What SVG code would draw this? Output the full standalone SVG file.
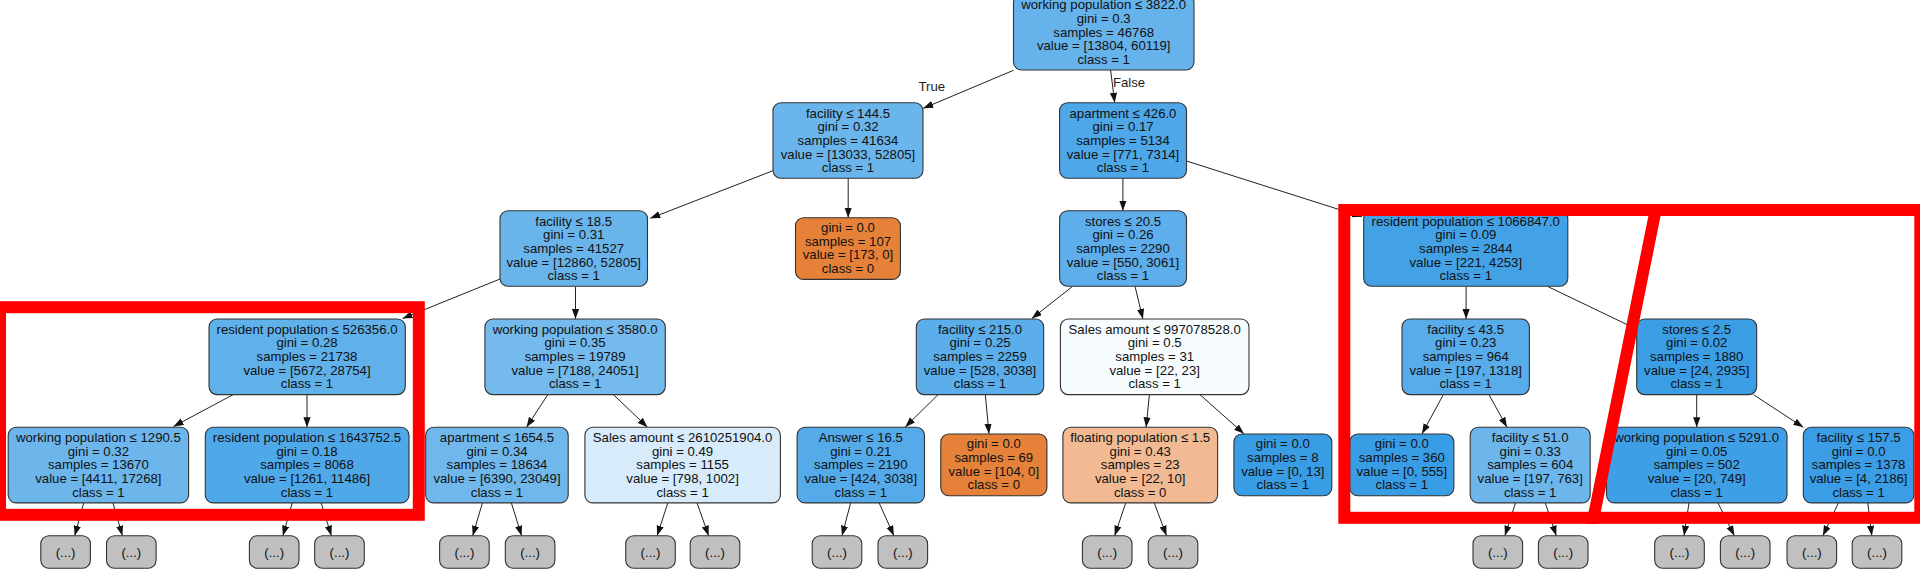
<svg xmlns="http://www.w3.org/2000/svg" width="1920" height="586" viewBox="0 0 1920 586">
<style>
.nd rect{stroke:#333;stroke-width:1.1}
.nd text{font-family:"Liberation Sans",Arial,Helvetica,sans-serif;font-size:13.2px;text-anchor:middle;fill:#111}
.lbl{font-family:"Liberation Sans",Arial,Helvetica,sans-serif;font-size:13.2px;text-anchor:middle;fill:#222}
.el line{stroke:#222;stroke-width:1;marker-end:url(#ah)}
.el2 line{stroke:#222;stroke-width:1}
.tr rect{fill:#c0c0c0}
.red{fill:none;stroke:#ff0000;stroke-width:12}
</style>
<defs>
<marker id="ah" markerUnits="userSpaceOnUse" markerWidth="11" markerHeight="8" refX="10" refY="3.6" orient="auto">
<path d="M0,0 L10,3.6 L0,7.2 z" fill="#111"/>
</marker>
</defs>
<rect width="1920" height="586" fill="#ffffff"/>
<g id="edges" class="el">
<line x1="1013.5" y1="70.3" x2="923.3" y2="108.3"/>
<line x1="1110.6" y1="70" x2="1114.7" y2="102.7"/>
<line x1="773" y1="170.7" x2="650.2" y2="218.3"/>
<line x1="848.2" y1="178.3" x2="848.2" y2="217.7"/>
<line x1="1122.9" y1="178.3" x2="1122.9" y2="210.7"/>
<line x1="1186.5" y1="161" x2="1362" y2="216.8"/>
<line x1="500" y1="279" x2="402.5" y2="318.5"/>
<line x1="575.5" y1="286.7" x2="575.5" y2="319"/>
<line x1="233" y1="394.7" x2="173.5" y2="426.5"/>
<line x1="307" y1="394.7" x2="307" y2="427.3"/>
<line x1="547.8" y1="394.7" x2="526.5" y2="427.2"/>
<line x1="613.5" y1="394.7" x2="647.5" y2="427.2"/>
<line x1="1072.7" y1="286.3" x2="1031.8" y2="318.5"/>
<line x1="1135" y1="286.3" x2="1142.9" y2="318.9"/>
<line x1="1466.1" y1="286.3" x2="1466.1" y2="319"/>
<line x1="1547.3" y1="286.3" x2="1637.5" y2="329.6"/>
<line x1="938" y1="394.7" x2="905.3" y2="426.9"/>
<line x1="985.3" y1="394.7" x2="989" y2="433.8"/>
<line x1="1149.4" y1="394.7" x2="1146.1" y2="427.3"/>
<line x1="1200" y1="394.7" x2="1244" y2="433.8"/>
<line x1="1443.3" y1="394.7" x2="1422" y2="433.8"/>
<line x1="1489" y1="394.7" x2="1507" y2="427.2"/>
<line x1="1696.7" y1="394.7" x2="1696.7" y2="427.3"/>
<line x1="1753.5" y1="394.7" x2="1803.3" y2="427.3"/>
<line x1="83.7" y1="503" x2="74.7" y2="535.7"/>
<line x1="113" y1="503" x2="122.4" y2="535.7"/>
<line x1="292.2" y1="503" x2="282.9" y2="535.7"/>
<line x1="321.2" y1="503" x2="331.4" y2="535.7"/>
<line x1="482.4" y1="503" x2="472.7" y2="535.7"/>
<line x1="511.4" y1="503" x2="521.6" y2="535.7"/>
<line x1="667.8" y1="503" x2="657.1" y2="535.7"/>
<line x1="697.1" y1="503" x2="708.6" y2="535.7"/>
<line x1="850.6" y1="503" x2="842" y2="535.7"/>
<line x1="879.2" y1="503" x2="893.9" y2="535.7"/>
<line x1="1125.7" y1="503" x2="1114.7" y2="535.7"/>
<line x1="1154.3" y1="503" x2="1166.5" y2="535.7"/>
<line x1="1515.5" y1="503" x2="1504.9" y2="535.7"/>
<line x1="1545.3" y1="503" x2="1556.3" y2="535.7"/>
<line x1="1689" y1="503" x2="1684" y2="535.7"/>
<line x1="1718" y1="503" x2="1734.3" y2="535.7"/>
<line x1="1838.4" y1="503" x2="1822.9" y2="535.7"/>
<line x1="1867.8" y1="503" x2="1871.8" y2="535.7"/>
<text class="lbl" x="931.8" y="91">True</text>
<text class="lbl" x="1129" y="87">False</text>
</g>

<g id="n0" class="nd"><rect x="1013.5" y="-5.3" width="180.5" height="75.3" rx="8" fill="#66b3eb"/>
<text x="1103.7" y="9.3">working population ≤ 3822.0<tspan x="1103.7" dy="13.67">gini = 0.3</tspan><tspan x="1103.7" dy="13.67">samples = 46768</tspan><tspan x="1103.7" dy="13.67">value = [13804, 60119]</tspan><tspan x="1103.7" dy="13.67">class = 1</tspan></text></g>

<g id="n1" class="nd"><rect x="773" y="102.7" width="150" height="75.6" rx="8" fill="#6ab5eb"/>
<text x="848" y="117.5">facility ≤ 144.5<tspan x="848" dy="13.67">gini = 0.32</tspan><tspan x="848" dy="13.67">samples = 41634</tspan><tspan x="848" dy="13.67">value = [13033, 52805]</tspan><tspan x="848" dy="13.67">class = 1</tspan></text></g>

<g id="n2" class="nd"><rect x="500" y="210.7" width="147.5" height="75.6" rx="8" fill="#69b5eb"/>
<text x="573.7" y="225.5">facility ≤ 18.5<tspan x="573.7" dy="13.67">gini = 0.31</tspan><tspan x="573.7" dy="13.67">samples = 41527</tspan><tspan x="573.7" dy="13.67">value = [12860, 52805]</tspan><tspan x="573.7" dy="13.67">class = 1</tspan></text></g>

<g id="n3" class="nd"><rect x="209" y="319" width="196.3" height="75.6" rx="8" fill="#60b0ea"/>
<text x="307" y="333.8">resident population ≤ 526356.0<tspan x="307" dy="13.67">gini = 0.28</tspan><tspan x="307" dy="13.67">samples = 21738</tspan><tspan x="307" dy="13.67">value = [5672, 28754]</tspan><tspan x="307" dy="13.67">class = 1</tspan></text></g>

<g id="n4" class="nd"><rect x="8.2" y="427.3" width="180.4" height="75.6" rx="8" fill="#6cb6ec"/>
<text x="98.4" y="442.1">working population ≤ 1290.5<tspan x="98.4" dy="13.67">gini = 0.32</tspan><tspan x="98.4" dy="13.67">samples = 13670</tspan><tspan x="98.4" dy="13.67">value = [4411, 17268]</tspan><tspan x="98.4" dy="13.67">class = 1</tspan></text></g>

<g id="n5" class="nd tr"><rect x="40.8" y="535.7" width="49.6" height="32.6" rx="8"/><text x="65.6" y="556.5">(...)</text></g>
<g id="n6" class="nd tr"><rect x="106.5" y="535.7" width="49.6" height="32.6" rx="8"/><text x="131.3" y="556.5">(...)</text></g>

<g id="n7" class="nd"><rect x="205.3" y="427.3" width="203.7" height="75.6" rx="8" fill="#4fa8e8"/>
<text x="307" y="442.1">resident population ≤ 1643752.5<tspan x="307" dy="13.67">gini = 0.18</tspan><tspan x="307" dy="13.67">samples = 8068</tspan><tspan x="307" dy="13.67">value = [1261, 11486]</tspan><tspan x="307" dy="13.67">class = 1</tspan></text></g>

<g id="n8" class="nd tr"><rect x="249.4" y="535.7" width="49.6" height="32.6" rx="8"/><text x="274.2" y="556.5">(...)</text></g>
<g id="n9" class="nd tr"><rect x="314.7" y="535.7" width="49.6" height="32.6" rx="8"/><text x="339.5" y="556.5">(...)</text></g>

<g id="n10" class="nd"><rect x="484.9" y="319" width="180.4" height="75.6" rx="8" fill="#74baed"/>
<text x="575.1" y="333.8">working population ≤ 3580.0<tspan x="575.1" dy="13.67">gini = 0.35</tspan><tspan x="575.1" dy="13.67">samples = 19789</tspan><tspan x="575.1" dy="13.67">value = [7188, 24051]</tspan><tspan x="575.1" dy="13.67">class = 1</tspan></text></g>

<g id="n11" class="nd"><rect x="425.7" y="427.3" width="142.5" height="75.6" rx="8" fill="#70b8ec"/>
<text x="497" y="442.1">apartment ≤ 1654.5<tspan x="497" dy="13.67">gini = 0.34</tspan><tspan x="497" dy="13.67">samples = 18634</tspan><tspan x="497" dy="13.67">value = [6390, 23049]</tspan><tspan x="497" dy="13.67">class = 1</tspan></text></g>

<g id="n12" class="nd tr"><rect x="439.6" y="535.7" width="49.6" height="32.6" rx="8"/><text x="464.4" y="556.5">(...)</text></g>
<g id="n13" class="nd tr"><rect x="505.3" y="535.7" width="49.6" height="32.6" rx="8"/><text x="530.1" y="556.5">(...)</text></g>

<g id="n14" class="nd"><rect x="584.9" y="427.3" width="195.5" height="75.6" rx="8" fill="#d7ebfa"/>
<text x="682.6" y="442.1">Sales amount ≤ 2610251904.0<tspan x="682.6" dy="13.67">gini = 0.49</tspan><tspan x="682.6" dy="13.67">samples = 1155</tspan><tspan x="682.6" dy="13.67">value = [798, 1002]</tspan><tspan x="682.6" dy="13.67">class = 1</tspan></text></g>

<g id="n15" class="nd tr"><rect x="625.7" y="535.7" width="49.6" height="32.6" rx="8"/><text x="650.5" y="556.5">(...)</text></g>
<g id="n16" class="nd tr"><rect x="690.2" y="535.7" width="49.6" height="32.6" rx="8"/><text x="715" y="556.5">(...)</text></g>

<g id="n17" class="nd"><rect x="795.5" y="217.7" width="104.9" height="61.7" rx="8" fill="#e58139"/>
<text x="848" y="231.9">gini = 0.0<tspan x="848" dy="13.67">samples = 107</tspan><tspan x="848" dy="13.67">value = [173, 0]</tspan><tspan x="848" dy="13.67">class = 0</tspan></text></g>

<g id="n18" class="nd"><rect x="1059.6" y="102.7" width="126.9" height="75.6" rx="8" fill="#4ea7e8"/>
<text x="1123" y="117.5">apartment ≤ 426.0<tspan x="1123" dy="13.67">gini = 0.17</tspan><tspan x="1123" dy="13.67">samples = 5134</tspan><tspan x="1123" dy="13.67">value = [771, 7314]</tspan><tspan x="1123" dy="13.67">class = 1</tspan></text></g>

<g id="n19" class="nd"><rect x="1059.6" y="210.7" width="126.9" height="75.6" rx="8" fill="#5daeea"/>
<text x="1123" y="225.5">stores ≤ 20.5<tspan x="1123" dy="13.67">gini = 0.26</tspan><tspan x="1123" dy="13.67">samples = 2290</tspan><tspan x="1123" dy="13.67">value = [550, 3061]</tspan><tspan x="1123" dy="13.67">class = 1</tspan></text></g>

<g id="n20" class="nd"><rect x="916.3" y="319" width="127.4" height="75.6" rx="8" fill="#5baee9"/>
<text x="980" y="333.8">facility ≤ 215.0<tspan x="980" dy="13.67">gini = 0.25</tspan><tspan x="980" dy="13.67">samples = 2259</tspan><tspan x="980" dy="13.67">value = [528, 3038]</tspan><tspan x="980" dy="13.67">class = 1</tspan></text></g>

<g id="n21" class="nd"><rect x="797.1" y="427.3" width="127.4" height="75.6" rx="8" fill="#55abe9"/>
<text x="860.8" y="442.1">Answer ≤ 16.5<tspan x="860.8" dy="13.67">gini = 0.21</tspan><tspan x="860.8" dy="13.67">samples = 2190</tspan><tspan x="860.8" dy="13.67">value = [424, 3038]</tspan><tspan x="860.8" dy="13.67">class = 1</tspan></text></g>

<g id="n22" class="nd tr"><rect x="812.2" y="535.7" width="49.6" height="32.6" rx="8"/><text x="837" y="556.5">(...)</text></g>
<g id="n23" class="nd tr"><rect x="878" y="535.7" width="49.6" height="32.6" rx="8"/><text x="902.8" y="556.5">(...)</text></g>

<g id="n24" class="nd"><rect x="940.8" y="434" width="106.1" height="61.7" rx="8" fill="#e58139"/>
<text x="993.8" y="448.2">gini = 0.0<tspan x="993.8" dy="13.67">samples = 69</tspan><tspan x="993.8" dy="13.67">value = [104, 0]</tspan><tspan x="993.8" dy="13.67">class = 0</tspan></text></g>

<g id="n25" class="nd"><rect x="1060.4" y="319" width="188.6" height="75.6" rx="8" fill="#f6fbfe"/>
<text x="1154.7" y="333.8">Sales amount ≤ 997078528.0<tspan x="1154.7" dy="13.67">gini = 0.5</tspan><tspan x="1154.7" dy="13.67">samples = 31</tspan><tspan x="1154.7" dy="13.67">value = [22, 23]</tspan><tspan x="1154.7" dy="13.67">class = 1</tspan></text></g>

<g id="n26" class="nd"><rect x="1062.9" y="427.3" width="154.7" height="75.6" rx="8" fill="#f1ba93"/>
<text x="1140.2" y="442.1">floating population ≤ 1.5<tspan x="1140.2" dy="13.67">gini = 0.43</tspan><tspan x="1140.2" dy="13.67">samples = 23</tspan><tspan x="1140.2" dy="13.67">value = [22, 10]</tspan><tspan x="1140.2" dy="13.67">class = 0</tspan></text></g>

<g id="n27" class="nd tr"><rect x="1082.4" y="535.7" width="49.6" height="32.6" rx="8"/><text x="1107.2" y="556.5">(...)</text></g>
<g id="n28" class="nd tr"><rect x="1148.2" y="535.7" width="49.6" height="32.6" rx="8"/><text x="1173" y="556.5">(...)</text></g>

<g id="n29" class="nd"><rect x="1233.9" y="434" width="97.9" height="61.7" rx="8" fill="#399de5"/>
<text x="1282.8" y="448.2">gini = 0.0<tspan x="1282.8" dy="13.67">samples = 8</tspan><tspan x="1282.8" dy="13.67">value = [0, 13]</tspan><tspan x="1282.8" dy="13.67">class = 1</tspan></text></g>

<g id="n30" class="nd"><rect x="1363.7" y="210.7" width="204.1" height="75.6" rx="8" fill="#43a2e6"/>
<text x="1465.8" y="225.5">resident population ≤ 1066847.0<tspan x="1465.8" dy="13.67">gini = 0.09</tspan><tspan x="1465.8" dy="13.67">samples = 2844</tspan><tspan x="1465.8" dy="13.67">value = [221, 4253]</tspan><tspan x="1465.8" dy="13.67">class = 1</tspan></text></g>

<g id="n31" class="nd"><rect x="1402" y="319" width="127.4" height="75.6" rx="8" fill="#57ace9"/>
<text x="1465.7" y="333.8">facility ≤ 43.5<tspan x="1465.7" dy="13.67">gini = 0.23</tspan><tspan x="1465.7" dy="13.67">samples = 964</tspan><tspan x="1465.7" dy="13.67">value = [197, 1318]</tspan><tspan x="1465.7" dy="13.67">class = 1</tspan></text></g>

<g id="n32" class="nd"><rect x="1349.8" y="434" width="104.1" height="61.7" rx="8" fill="#399de5"/>
<text x="1401.8" y="448.2">gini = 0.0<tspan x="1401.8" dy="13.67">samples = 360</tspan><tspan x="1401.8" dy="13.67">value = [0, 555]</tspan><tspan x="1401.8" dy="13.67">class = 1</tspan></text></g>

<g id="n33" class="nd"><rect x="1470.2" y="427.3" width="120" height="75.6" rx="8" fill="#6cb6ec"/>
<text x="1530.2" y="442.1">facility ≤ 51.0<tspan x="1530.2" dy="13.67">gini = 0.33</tspan><tspan x="1530.2" dy="13.67">samples = 604</tspan><tspan x="1530.2" dy="13.67">value = [197, 763]</tspan><tspan x="1530.2" dy="13.67">class = 1</tspan></text></g>

<g id="n34" class="nd tr"><rect x="1473" y="535.7" width="49.6" height="32.6" rx="8"/><text x="1497.8" y="556.5">(...)</text></g>
<g id="n35" class="nd tr"><rect x="1538.4" y="535.7" width="49.6" height="32.6" rx="8"/><text x="1563.2" y="556.5">(...)</text></g>

<g id="n36" class="nd"><rect x="1636.7" y="319" width="120" height="75.6" rx="8" fill="#3b9ee5"/>
<text x="1696.7" y="333.8">stores ≤ 2.5<tspan x="1696.7" dy="13.67">gini = 0.02</tspan><tspan x="1696.7" dy="13.67">samples = 1880</tspan><tspan x="1696.7" dy="13.67">value = [24, 2935]</tspan><tspan x="1696.7" dy="13.67">class = 1</tspan></text></g>

<g id="n37" class="nd"><rect x="1606.5" y="427.3" width="180.5" height="75.6" rx="8" fill="#3e9fe6"/>
<text x="1696.7" y="442.1">working population ≤ 5291.0<tspan x="1696.7" dy="13.67">gini = 0.05</tspan><tspan x="1696.7" dy="13.67">samples = 502</tspan><tspan x="1696.7" dy="13.67">value = [20, 749]</tspan><tspan x="1696.7" dy="13.67">class = 1</tspan></text></g>

<g id="n38" class="nd tr"><rect x="1654.7" y="535.7" width="49.6" height="32.6" rx="8"/><text x="1679.5" y="556.5">(...)</text></g>
<g id="n39" class="nd tr"><rect x="1720.4" y="535.7" width="49.6" height="32.6" rx="8"/><text x="1745.2" y="556.5">(...)</text></g>

<g id="n40" class="nd"><rect x="1803.3" y="427.3" width="110.6" height="75.6" rx="8" fill="#3a9de5"/>
<text x="1858.6" y="442.1">facility ≤ 157.5<tspan x="1858.6" dy="13.67">gini = 0.0</tspan><tspan x="1858.6" dy="13.67">samples = 1378</tspan><tspan x="1858.6" dy="13.67">value = [4, 2186]</tspan><tspan x="1858.6" dy="13.67">class = 1</tspan></text></g>

<g id="n41" class="nd tr"><rect x="1787" y="535.7" width="49.6" height="32.6" rx="8"/><text x="1811.8" y="556.5">(...)</text></g>
<g id="n42" class="nd tr"><rect x="1852.2" y="535.7" width="49.6" height="32.6" rx="8"/><text x="1877" y="556.5">(...)</text></g>

<g id="highlights">
<rect class="red" x="0" y="307.2" width="418.8" height="207.6"/>
<rect class="red" x="1344.3" y="210" width="576" height="307.8"/>
<polygon points="1650.8,204 1663,204 1598.4,523.8 1586.2,523.8" fill="#ff0000"/>
</g>
</svg>
